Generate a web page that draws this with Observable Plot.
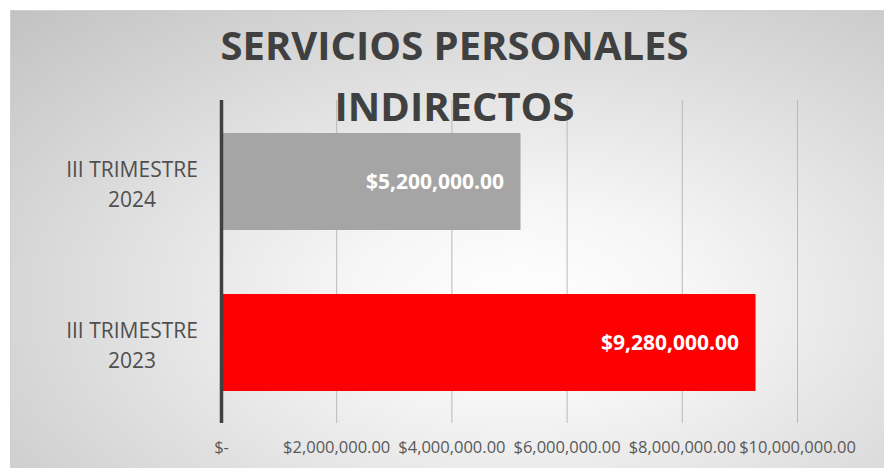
<!DOCTYPE html>
<html>
<head>
<meta charset="utf-8">
<script src="https://cdn.jsdelivr.net/npm/d3@7"></script>
<script src="https://cdn.jsdelivr.net/npm/@observablehq/plot@0.6"></script>
<style>
  html, body { margin: 0; padding: 0; background: #ffffff; }
  #wrap { position: relative; width: 884px; height: 468px; overflow: hidden; }
  #bg {
    position: absolute; left: 10px; top: 10px; width: 880px; height: 470px;
    border-left: 1px solid #cfcfcf; border-top: 1px solid #cfcfcf;
    background: radial-gradient(ellipse farthest-corner at 58% 62%, #ffffff 0%, #f6f6f6 24%, #c2c2c2 100%);
  }
  #chart { position: absolute; left: 0; top: 0; }
</style>
</head>
<body>
<div id="wrap"><div id="bg"></div><div id="chart"></div></div>
<script>
const titleLines = ["SERVICIOS PERSONALES", "INDIRECTOS"];
const categories = ["III TRIMESTRE 2024", "III TRIMESTRE 2023"];
const categoryLines = ["III TRIMESTRE\n2024", "III TRIMESTRE\n2023"];
const values = [5200000, 9280000];
const barColors = ["#a5a5a5", "#ff0000"];
const xTicks = [0, 2000000, 4000000, 6000000, 8000000, 10000000];

const data = categories.map((c, i) => ({category: c, lines: categoryLines[i], value: values[i], color: barColors[i]}));
const money = d3.format(",.2f");
const fmtTick = d => d === 0 ? "$-" : "$" + money(d);
const fmtVal = d => "$" + money(d);

const chart = Plot.plot({
  width: 884,
  height: 468,
  marginLeft: 221,
  marginRight: 87,
  marginTop: 100,
  marginBottom: 45,
  style: {background: "transparent", fontFamily: "'Open Sans', sans-serif", overflow: "visible"},
  x: {domain: [0, 10000000], label: null},
  y: {domain: categories, paddingInner: 0.4, paddingOuter: 0.2, label: null},
  marks: [
    Plot.ruleX(xTicks.slice(1), {stroke: "#b9b9b9", strokeWidth: 1}),
    Plot.barX(data, {x: "value", y: "category", fill: "color"}),
    Plot.ruleX([0], {stroke: "#404040", strokeWidth: 3.5}),
    Plot.text(data, {x: "value", y: "category", text: d => fmtVal(d.value), textAnchor: "end", dx: -17, fill: "#ffffff", fontWeight: "bold", fontSize: 21}),
    Plot.axisX({ticks: xTicks, tickFormat: fmtTick, tickSize: 0, tickPadding: 18, fontSize: 16.5, color: "#595959", label: null}),
    Plot.axisY({tickSize: 0, tickPadding: 0, textAnchor: "middle", dx: -89.5, fontSize: 21, lineHeight: 1.45, color: "#4f4f4f", label: null,
      tickFormat: c => categoryLines[categories.indexOf(c)]}),
    Plot.text([titleLines[0]], {frameAnchor: "top", text: d => d, dx: -55, dy: -41, lineAnchor: "bottom", fontSize: 40, fontWeight: "bold", fill: "#404040"}),
    Plot.text([titleLines[1]], {frameAnchor: "top", text: d => d, dx: -55, dy: 20, lineAnchor: "bottom", fontSize: 40, fontWeight: "bold", fill: "#404040"})
  ]
});
document.getElementById("chart").appendChild(chart);
</script>
</body>
</html>
